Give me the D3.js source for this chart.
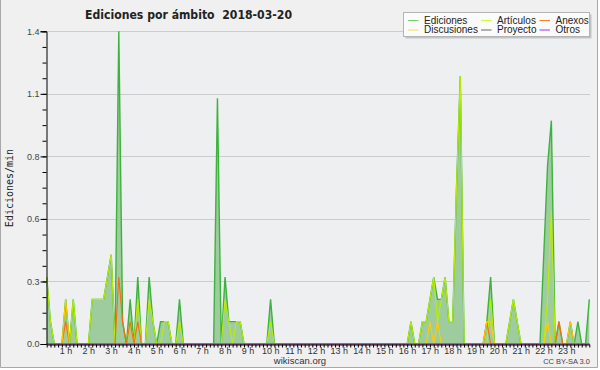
<!DOCTYPE html>
<html>
<head>
<meta charset="utf-8">
<script src="https://cdnjs.cloudflare.com/ajax/libs/d3/7.8.5/d3.min.js"></script>
<style>
  body { margin: 0; background: #fff; }
  text { font-family: "Liberation Sans", Arial, sans-serif; }
</style>
</head>
<body>
<script>
/* global d3 */

// 10-minute slots, 0h00 .. 23h50 (edits per minute)
var ediciones = [
  0.3, 0.1, 0, 0, 0, 0.2, 0, 0.2, 0, 0, 0, 0,
  0.2, 0.2, 0.2, 0.2, 0.3, 0.4, 0, 1.4, 0.1, 0, 0.2, 0,
  0.3, 0, 0, 0.3, 0.1, 0, 0.1, 0.1, 0.1, 0, 0, 0.2,
  0, 0, 0, 0, 0, 0, 0, 0, 0, 1.1, 0, 0.3,
  0.1, 0.1, 0.1, 0.1, 0, 0, 0, 0, 0, 0, 0, 0.2,
  0, 0, 0, 0, 0, 0, 0, 0, 0, 0, 0, 0,
  0, 0, 0, 0, 0, 0, 0, 0, 0, 0, 0, 0,
  0, 0, 0, 0, 0, 0, 0, 0, 0, 0, 0, 0,
  0.1, 0, 0, 0.1, 0.1, 0.2, 0.3, 0.2, 0.2, 0.3, 0.1, 0.1,
  0.7, 1.2, 0, 0, 0, 0, 0, 0, 0.1, 0.3, 0, 0,
  0, 0, 0.1, 0.2, 0.1, 0, 0, 0, 0, 0, 0, 0.4,
  0.8, 1.0, 0, 0.1, 0, 0, 0.1, 0, 0.1, 0, 0, 0.2
];
var articulos = [
  0.3, 0.1, 0, 0, 0, 0, 0, 0.2, 0, 0, 0, 0,
  0.2, 0.2, 0.2, 0.2, 0.3, 0.4, 0, 0, 0, 0, 0.1, 0,
  0.2, 0, 0, 0.2, 0.1, 0, 0, 0.1, 0.1, 0, 0, 0.1,
  0, 0, 0, 0, 0, 0, 0, 0, 0, 0, 0, 0.2,
  0.1, 0, 0.1, 0.1, 0, 0, 0, 0, 0, 0, 0, 0.1,
  0, 0, 0, 0, 0, 0, 0, 0, 0, 0, 0, 0,
  0, 0, 0, 0, 0, 0, 0, 0, 0, 0, 0, 0,
  0, 0, 0, 0, 0, 0, 0, 0, 0, 0, 0, 0,
  0.1, 0, 0, 0.1, 0.1, 0.2, 0.3, 0.1, 0.2, 0.3, 0.1, 0.1,
  0.7, 1.2, 0, 0, 0, 0, 0, 0, 0, 0.2, 0, 0,
  0, 0, 0.1, 0.2, 0.1, 0, 0, 0, 0, 0, 0, 0,
  0.2, 0.6, 0, 0, 0, 0, 0, 0, 0, 0, 0, 0
];
var anexos = [
  0, 0, 0, 0, 0, 0.1, 0, 0, 0, 0, 0, 0,
  0, 0, 0, 0, 0, 0, 0, 0.3, 0.1, 0, 0.1, 0,
  0.1, 0, 0, 0, 0, 0, 0, 0, 0, 0, 0, 0,
  0, 0, 0, 0, 0, 0, 0, 0, 0, 0, 0, 0,
  0, 0, 0, 0, 0, 0, 0, 0, 0, 0, 0, 0,
  0, 0, 0, 0, 0, 0, 0, 0, 0, 0, 0, 0,
  0, 0, 0, 0, 0, 0, 0, 0, 0, 0, 0, 0,
  0, 0, 0, 0, 0, 0, 0, 0, 0, 0, 0, 0,
  0, 0, 0, 0, 0, 0, 0, 0, 0, 0, 0, 0,
  0, 0, 0, 0, 0, 0, 0, 0, 0.1, 0, 0, 0,
  0, 0, 0, 0, 0, 0, 0, 0, 0, 0, 0, 0,
  0, 0, 0, 0.1, 0, 0, 0, 0, 0, 0, 0, 0
];
var discusiones = [
  0, 0, 0, 0, 0, 0.2, 0, 0, 0, 0, 0, 0,
  0, 0, 0, 0, 0, 0, 0, 0, 0, 0, 0, 0,
  0, 0, 0, 0, 0, 0, 0, 0, 0, 0, 0, 0,
  0, 0, 0, 0, 0, 0, 0, 0, 0, 0, 0, 0,
  0, 0, 0, 0, 0, 0, 0, 0, 0, 0, 0, 0,
  0, 0, 0, 0, 0, 0, 0, 0, 0, 0, 0, 0,
  0, 0, 0, 0, 0, 0, 0, 0, 0, 0, 0, 0,
  0, 0, 0, 0, 0, 0, 0, 0, 0, 0, 0, 0,
  0, 0, 0, 0, 0, 0.1, 0, 0.1, 0, 0, 0, 0,
  0, 0, 0, 0, 0, 0, 0, 0, 0.1, 0.1, 0, 0,
  0, 0, 0, 0, 0, 0, 0, 0, 0, 0, 0, 0,
  0.1, 0, 0, 0, 0, 0, 0.1, 0, 0, 0, 0, 0
];
var proyecto = d3.range(144).map(function(){ return 0; });
var otros    = d3.range(144).map(function(){ return 0; });

var seriesNames  = ['Ediciones', 'Artículos', 'Anexos', 'Discusiones', 'Proyecto', 'Otros'];
var seriesColors = ['#3db33d', '#bbee00', '#ff6a10', '#ffcc00', '#666666', '#9933ff'];
var legendColors = ['#77cc77', '#ccff33', '#ff7733', '#ffdd44', '#666666', '#9933ff'];
var yTicks = [0, 0.28, 0.56, 0.84, 1.12, 1.4];
var hourLabels = d3.range(1, 24).map(function(h){ return h + ' h'; });

var W = 600, H = 370;
var svg = d3.select('body').append('svg')
  .attr('width', W)
  .attr('height', H);

// Frame
svg.append('rect')
  .attr('x', 0).attr('y', 0).attr('width', 598).attr('height', 368)
  .style('fill', '#f0f0f0');
svg.append('path')
  .attr('d', 'M0.5,0 V367.5 H597.5 V0')
  .style('fill', 'none')
  .style('stroke', '#a8a8a8');

var x = d3.scaleLinear().domain([0, 143]).range([46.7, 589.3]);
var y = d3.scaleLinear().domain([0, 1.4]).range([344, 31.3]);

// Plot background + grid
svg.append('rect')
  .attr('x', 46.7).attr('y', 31.3)
  .attr('width', 590 - 46.7).attr('height', 344 - 31.3)
  .style('fill', '#edeff1');

svg.append('g').selectAll('line')
  .data(yTicks.slice(1))
  .enter()
  .append('line')
    .attr('x1', 47).attr('x2', 590)
    .attr('y1', function(d){ return Math.round(y(d)) + 0.5; })
    .attr('y2', function(d){ return Math.round(y(d)) + 0.5; })
    .style('stroke', '#cccccc');

// Area under Ediciones
var area = d3.area()
  .x(function(d, i){ return x(i); })
  .y0(y(0))
  .y1(function(d){ return y(d); });

svg.append('path')
  .datum(ediciones)
  .attr('d', area)
  .style('fill', '#9fcc9f');

// Lines
var line = d3.line()
  .x(function(d, i){ return x(i); })
  .y(function(d){ return y(d); });

var allSeries = [ediciones, articulos, anexos, discusiones, proyecto, otros];
svg.append('g').selectAll('path')
  .data(allSeries)
  .enter()
  .append('path')
    .attr('d', line)
    .style('fill', 'none')
    .style('stroke', function(d, i){ return seriesColors[i]; })
    .style('stroke-width', function(d, i){ return i === 0 ? 1.4 : 1.1; });

// Y axis
var yAxis = svg.append('g')
  .attr('transform', 'translate(46.5,0)')
  .call(d3.axisLeft(y).tickValues(yTicks).tickSize(6).tickPadding(1).tickFormat(d3.format('.1f')));
svg.append('g')
  .attr('transform', 'translate(46.5,0)')
  .call(d3.axisLeft(y).tickValues(d3.range(21).map(function(i){ return i * 0.07; })).tickSize(4).tickFormat(''))
  .select('.domain').remove();

yAxis.selectAll('text')
  .style('font-family', '"Liberation Sans", Arial, sans-serif')
  .style('font-size', '9px')
  .style('fill', '#444');

// X axis
svg.append('g')
  .attr('transform', 'translate(0,344.5)')
  .call(d3.axisBottom(x).tickValues(d3.range(144)).tickSize(3).tickFormat('').tickSizeOuter(0));

svg.selectAll('.domain').style('stroke', '#000');
svg.selectAll('.tick line').style('stroke', '#000');

svg.append('g').selectAll('text')
  .data(hourLabels)
  .enter()
  .append('text')
    .attr('x', function(d, i){ return x((i + 1) * 6) - 3.5; })
    .attr('y', 354)
    .style('text-anchor', 'middle')
    .style('font-size', '9px')
    .style('fill', '#333')
    .text(function(d){ return d; });

// Y title
svg.append('text')
  .attr('transform', 'translate(13,188) rotate(-90)')
  .style('text-anchor', 'middle')
  .style('font-family', '"DejaVu Sans Mono", monospace')
  .style('font-size', '10px')
  .style('fill', '#222')
  .text('Ediciones/min');

// Title (double space kept)
svg.append('text')
  .attr('x', 85).attr('y', 18.5)
  .attr('textLength', 207)
  .attr('lengthAdjust', 'spacingAndGlyphs')
  .style('white-space', 'pre')
  .style('font-family', '"DejaVu Sans", sans-serif')
  .style('font-weight', 'bold')
  .style('font-size', '12.5px')
  .style('fill', '#222')
  .text('Ediciones por ámbito  2018-03-20');

// Footer
svg.append('text')
  .attr('x', 300).attr('y', 364)
  .style('text-anchor', 'middle')
  .style('font-size', '9.5px')
  .style('fill', '#333')
  .text('wikiscan.org');

svg.append('text')
  .attr('x', 590).attr('y', 364)
  .style('text-anchor', 'end')
  .style('font-size', '7.5px')
  .style('fill', '#444')
  .text('CC BY-SA 3.0');

// Legend
var legend = svg.append('g');
legend.append('rect')
  .attr('x', 405.5).attr('y', 14.5).attr('width', 186).attr('height', 24)
  .style('fill', '#c4c4c4');
legend.append('rect')
  .attr('x', 403.5).attr('y', 12.5).attr('width', 186).attr('height', 24)
  .style('fill', '#fbfbfb')
  .style('stroke', '#b4b4b4');

var colX = [408, 481, 539.5],
    rowY = [20, 29.5];

var items = legend.selectAll('g.item')
  .data(seriesNames)
  .enter()
  .append('g')
    .attr('transform', function(d, i){
      return 'translate(' + colX[i % 3] + ',' + rowY[Math.floor(i / 3)] + ')';
    });

items.append('line')
  .attr('x1', 0).attr('x2', 10.5)
  .attr('y1', 0.5).attr('y2', 0.5)
  .style('stroke', function(d, i){ return legendColors[i]; });

items.append('text')
  .attr('x', 16)
  .attr('y', 3.5)
  .style('font-size', '10px')
  .style('fill', '#222')
  .text(function(d){ return d; });

</script>
</body>
</html>
